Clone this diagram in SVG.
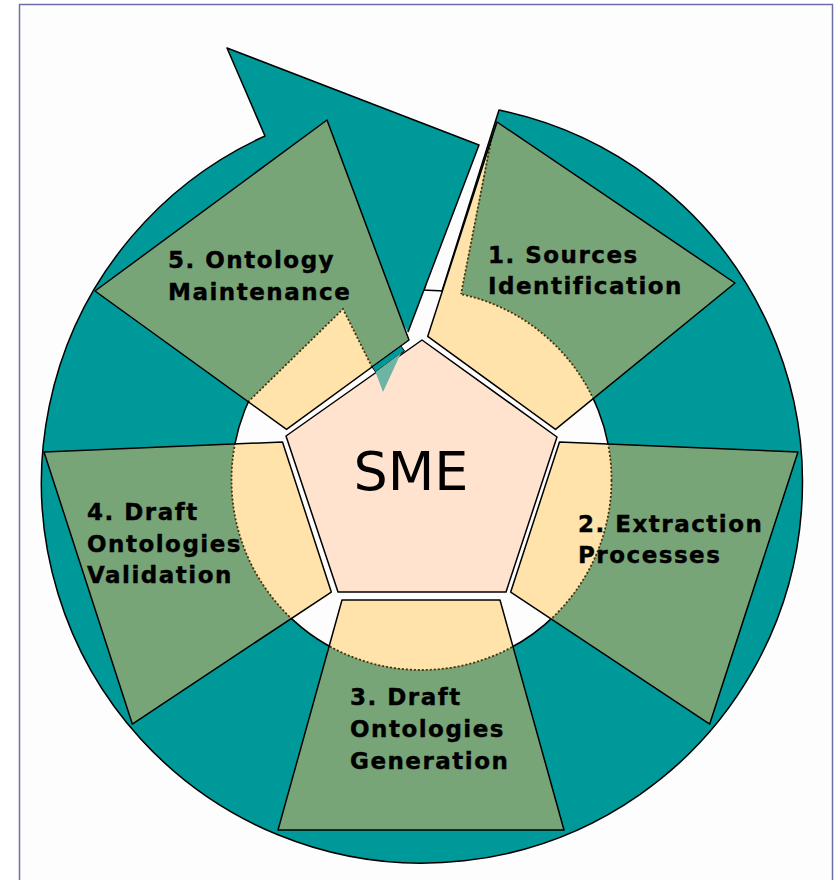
<svg xmlns="http://www.w3.org/2000/svg" width="837" height="880" viewBox="0 0 837 880">
<defs>
<style>
.teal{fill:#009999;stroke:#000;stroke-width:1.5;stroke-linejoin:round}
.green{fill:#78a578;stroke:none}
.edge{fill:none;stroke:#000;stroke-width:1.5;stroke-linejoin:round}
.yel{fill:#ffe3aa;stroke:#4a3208;stroke-width:1.8;stroke-dasharray:2 2}
.yelf{fill:#ffe3aa;stroke:none}
.dot{fill:none;stroke:#4a3208;stroke-width:1.8;stroke-dasharray:2 2}
.lbl{font-family:"DejaVu Sans","Verdana",sans-serif;font-weight:bold;font-size:23px;letter-spacing:1.5px;fill:#000;stroke:#000;stroke-width:0.4}
</style>
<clipPath id="q1"><polygon points="427.7,336.4 497,122 735,283 555.5,429.4"/></clipPath>
<clipPath id="q2"><polygon points="559.5,442 798,452 709.7,724 510.7,592"/></clipPath>
<clipPath id="q3"><polygon points="342,600 500,600 564,830 278,830"/></clipPath>
<clipPath id="q4"><polygon points="282.5,442 44,452 132.3,724 331.3,592"/></clipPath>
</defs>
<rect x="19.5" y="4.5" width="813" height="900" fill="#fdfdfd" stroke="#6e6ea8" stroke-width="1.5"/>

<g id="cycle-arrow">
<path class="teal" d="M499,110 A380.5,380.5 0 1 1 265,136 L227,48 L479,145 L408,332 L422,340 L427.7,336.4 Z"/>
<circle cx="421.5" cy="480" r="190" fill="#fdfdfd" stroke="#000" stroke-width="1.5"/>
<polygon points="380,285 425.8,285 408,332" fill="#009999"/>
<line x1="425.8" y1="285" x2="408" y2="332" stroke="#000" stroke-width="1.5"/>
</g>

<g id="step1">
<polygon class="green" points="427.7,336.4 497,122 735,283 555.5,429.4"/>
<circle class="yel" cx="421.5" cy="480" r="190" clip-path="url(#q1)"/>
<polygon class="yelf" points="427.7,336.4 497,122 490,142 461,294 458,302 432,330" clip-path="url(#q1)"/>
<polyline class="dot" points="492,136 461,294"/>
<polygon class="edge" points="427.7,336.4 497,122 735,283 555.5,429.4"/>
<text class="lbl" x="488" y="263">1. Sources</text>
<text class="lbl" x="488" y="294">Identification</text>
</g>

<g id="step2">
<polygon class="green" points="559.5,442 798,452 709.7,724 510.7,592"/>
<circle class="yel" cx="421.5" cy="480" r="190" clip-path="url(#q2)"/>
<polygon class="edge" points="559.5,442 798,452 709.7,724 510.7,592"/>
<text class="lbl" x="578" y="532">2. Extraction</text>
<text class="lbl" x="578" y="563">Processes</text>
</g>

<g id="step3">
<polygon class="green" points="342,600 500,600 564,830 278,830"/>
<circle class="yel" cx="421.5" cy="480" r="190" clip-path="url(#q3)"/>
<polygon class="edge" points="342,600 500,600 564,830 278,830"/>
<text class="lbl" x="350" y="705">3. Draft</text>
<text class="lbl" x="350" y="737">Ontologies</text>
<text class="lbl" x="350" y="769">Generation</text>
</g>

<g id="step4">
<polygon class="green" points="282.5,442 44,452 132.3,724 331.3,592"/>
<circle class="yel" cx="421.5" cy="480" r="190" clip-path="url(#q4)"/>
<polygon class="edge" points="282.5,442 44,452 132.3,724 331.3,592"/>
<text class="lbl" x="87" y="520">4. Draft</text>
<text class="lbl" x="87" y="552">Ontologies</text>
<text class="lbl" x="87" y="583">Validation</text>
</g>

<g id="step5">
<polygon class="green" points="327,120 95,291 286.5,429.4 409,340"/>
<polygon class="yelf" points="286.5,429.4 248,402 343,309 372,367"/>
<polyline class="dot" points="248,402 343,309 372,367"/>
<polygon class="edge" points="327,120 95,291 286.5,429.4 409,340"/>
<text class="lbl" x="168" y="268">5. Ontology</text>
<text class="lbl" x="168" y="300">Maintenance</text>
</g>

<g id="sme">
<polygon points="422,340 557,437 506,592 338,592 286,436" fill="#ffe3cf" stroke="#000" stroke-width="1.5" stroke-linejoin="round"/>
<text x="411" y="490" text-anchor="middle" font-family="DejaVu Sans, Verdana, sans-serif" font-size="54" fill="#000">SME</text>
</g>

<g id="arrow-tip">
<polygon points="372,367 401,346 404.5,350.9 375.5,371.9" fill="#009999" stroke="#000" stroke-width="1"/>
<polygon points="375.5,372 401,353 383,392" fill="#6fb3a3"/>
</g>
</svg>
